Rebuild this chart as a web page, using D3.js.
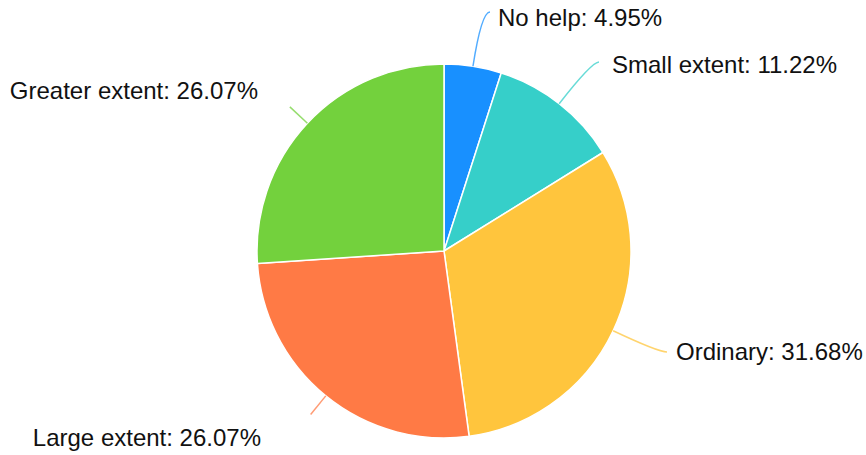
<!DOCTYPE html>
<html>
<head>
<meta charset="utf-8">
<script src="https://cdn.jsdelivr.net/npm/d3@7/dist/d3.min.js"></script>
<style>
  html, body { margin: 0; padding: 0; background: #fff; }
  svg { display: block; }
  text { font-family: "Liberation Sans", Arial, Helvetica, sans-serif; font-size: 24px; fill: #111; }
</style>
</head>
<body>
<svg id="chart" width="866" height="455"></svg>
<script>
// Survey shares, clockwise from 12 o'clock
const categories = ["No help", "Small extent", "Ordinary", "Large extent", "Greater extent"];
const shares = [4.95, 11.22, 31.68, 26.07, 26.07];
const colors = ["#1890ff", "#36cfc9", "#ffc53d", "#ff7a45", "#73d13d"];

// Label anchor points (where the leader line ends) and text side
const labelAnchors = [
  { x: 490, y: 12, side: "right", tx: 498, ty: 26 },
  { x: 599, y: 62, side: "right", tx: 612, ty: 73 },
  { x: 667, y: 352, side: "right", tx: 676, ty: 360 },
  { x: null, y: null, side: "left", tx: 261, ty: 446 },
  { x: null, y: null, side: "left", tx: 258, ty: 99 }
];

const svg = d3.select("#chart");
const cx = 444, cy = 251, radius = 187;

const data = categories.map((c, i) => ({ name: c, value: shares[i], color: colors[i], anchor: labelAnchors[i] }));

const pie = d3.pie().sort(null).value(d => d.value).startAngle(0).endAngle(2 * Math.PI);
const arcs = pie(data);
const arc = d3.arc().innerRadius(0).outerRadius(radius);

const g = svg.append("g").attr("transform", `translate(${cx},${cy})`);

g.selectAll("path.slice")
  .data(arcs)
  .join("path")
  .attr("class", "slice")
  .attr("d", arc)
  .attr("fill", d => d.data.color)
  .attr("stroke", "#fff")
  .attr("stroke-width", 1.5)
  .attr("stroke-linejoin", "round");

// Leader lines: out along the slice's mid-angle, then bend into the label
function polar(a, r) { return [Math.sin(a) * r, -Math.cos(a) * r]; }

g.selectAll("path.leader")
  .data(arcs)
  .join("path")
  .attr("class", "leader")
  .attr("fill", "none")
  .attr("stroke", d => d.data.color)
  .attr("stroke-width", 1.5)
  .attr("stroke-opacity", 0.75)
  .attr("d", d => {
    const a = (d.startAngle + d.endAngle) / 2;
    const p0 = polar(a, radius);
    const an = d.data.anchor;
    if (an.side === "left") {
      const p1 = polar(a, radius + 24);
      return `M${p0[0]},${p0[1]}L${p1[0]},${p1[1]}`;
    }
    const ex = an.x - cx, ey = an.y - cy;
    const dist = (ey) / (-Math.cos(a));
    const c = polar(a, dist);
    return `M${p0[0]},${p0[1]}Q${c[0]},${c[1]} ${ex},${ey}`;
  });

svg.selectAll("text.label")
  .data(arcs)
  .join("text")
  .attr("class", "label")
  .attr("x", d => d.data.anchor.tx)
  .attr("y", d => d.data.anchor.ty)
  .attr("text-anchor", d => d.data.anchor.side === "left" ? "end" : "start")
  .text(d => `${d.data.name}: ${d3.format(".2f")(d.data.value)}%`);
</script>
</body>
</html>
